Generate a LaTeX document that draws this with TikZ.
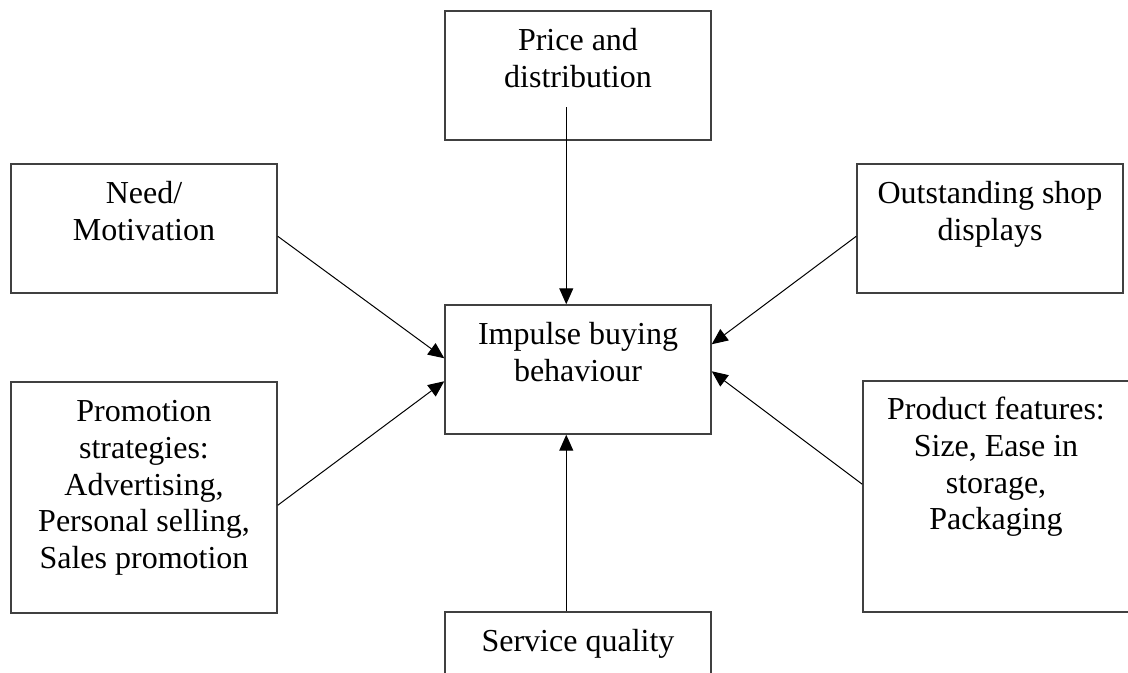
\documentclass[tikz,border=0pt]{standalone}
\usepackage{fontspec}
\setmainfont{Liberation Serif}
\usetikzlibrary{arrows.meta,calc}

\begin{document}
\begin{tikzpicture}[
  x=0.75pt, y=-0.75pt,
  box/.style={draw=black!75, line width=1.1pt, rectangle, inner sep=0pt,
              minimum width=199.5pt},
  shortbox/.style={box, minimum height=96.75pt},
  tallbox/.style={box, minimum height=173.25pt},
  boxtext/.style={anchor=north, align=center, inner sep=0pt,
                  font=\fontsize{24}{27.6}\selectfont},
  link/.style={line width=0.75pt, draw=black,
               -{Triangle[length=12pt,width=10.5pt]}}
]
\useasboundingbox (0,0) rectangle (1128,673);

% factor boxes
\node[shortbox] (price)  at (578,75.5)   {};
\node[shortbox] (need)   at (144,228.5)  {};
\node[shortbox] (shop)   at (990,228.5)  {};
\node[shortbox] (impulse) at (578,369.5) {};
\node[tallbox]  (promo)  at (144,497.5)  {};
\node[tallbox]  (product) at (996,496.5) {};
\node[shortbox] (service) at (578,676.5) {};

% box texts: the strut puts the first baseline 40px below the top edge
\node[boxtext] (price-t)   at ($(price.north)+(0,14.2)$)   {\strut Price and\\distribution};
\node[boxtext] (need-t)    at ($(need.north)+(0,14.2)$)    {\strut Need/\\Motivation};
\node[boxtext] (shop-t)    at ($(shop.north)+(0,14.2)$)    {\strut Outstanding shop\\displays};
\node[boxtext] (impulse-t) at ($(impulse.north)+(0,14.2)$) {\strut Impulse buying\\behaviour};
\node[boxtext] (promo-t)   at ($(promo.north)+(0,14.2)$)   {\strut Promotion\\strategies:\\Advertising,\\Personal selling,\\Sales promotion};
\node[boxtext] (product-t) at ($(product.north)+(0,13.2)$) {\strut Product features:\\Size, Ease in\\storage,\\Packaging};
\node[boxtext] (service-t) at ($(service.north)+(0,14.2)$) {\strut Service quality};

% connector end points
\coordinate (price-o)   at ($(price.north west)+(122,97)$);
\coordinate (need-o)    at ($(need.north east)+(0,73)$);
\coordinate (shop-o)    at ($(shop.north west)+(0,73)$);
\coordinate (promo-o)   at ($(promo.north east)+(0,124)$);
\coordinate (product-o) at ($(product.north west)+(0,104)$);
\coordinate (service-o) at ($(service.north west)+(122,0)$);

\coordinate (imp-top)   at ($(impulse.north west)+(122,0)$);
\coordinate (imp-bot)   at ($(impulse.south west)+(122,0)$);
\coordinate (imp-l1)    at ($(impulse.north west)+(0,54)$);
\coordinate (imp-l2)    at ($(impulse.north west)+(0,77)$);
\coordinate (imp-r1)    at ($(impulse.north east)+(0,40)$);
\coordinate (imp-r2)    at ($(impulse.north east)+(0,67)$);

% influences on impulse buying
\draw[link] (price-o)   -- (imp-top);
\draw[link] (need-o)    -- (imp-l1);
\draw[link] (promo-o)   -- (imp-l2);
\draw[link] (shop-o)    -- (imp-r1);
\draw[link] (product-o) -- (imp-r2);
\draw[link] (service-o) -- (imp-bot);
\end{tikzpicture}
\end{document}
